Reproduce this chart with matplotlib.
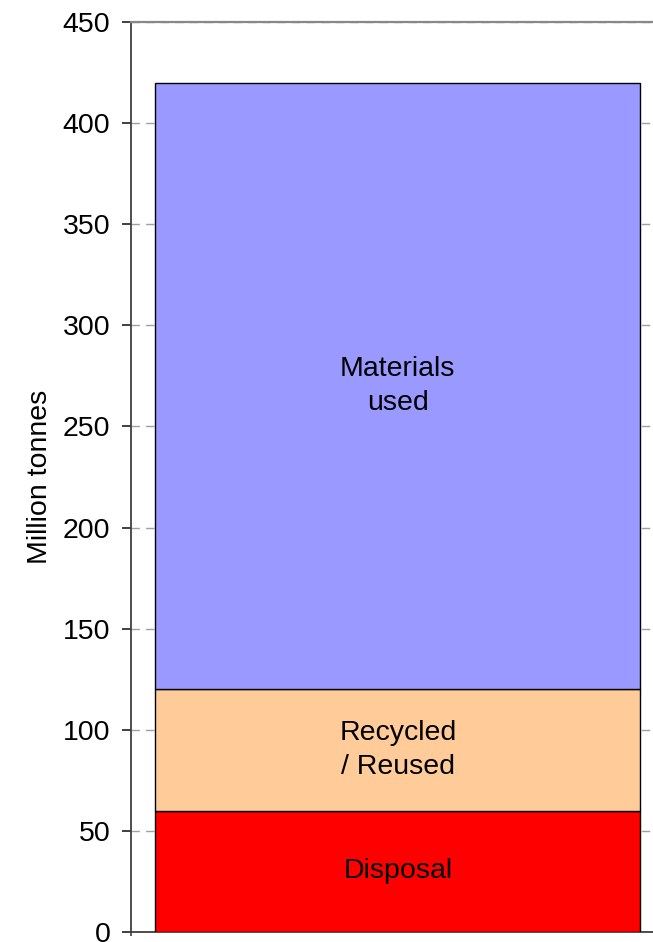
import matplotlib.pyplot as plt

# stacked components, million tonnes
segments = ["Disposal", "Recycled\n/ Reused", "Materials\nused"]
values = [60, 60, 300]
colors = ["#FF0000", "#FFCC99", "#9999FF"]

yticks = list(range(0, 451, 50))

plt.rcParams["font.family"] = ["Liberation Sans", "DejaVu Sans"]

fig = plt.figure(figsize=(6.53, 9.42), dpi=100)
# axes runs a little past the right edge of the figure
ax = fig.add_axes([130.5 / 653, 10 / 942, 534.5 / 653, 910 / 942])

bottom = 0
for name, val, col in zip(segments, values, colors):
    ax.bar(0.5, val, width=0.9074, bottom=bottom, color=col,
           edgecolor="black", linewidth=1.0, zorder=3)
    ax.text(0.5, bottom + val / 2, name, ha="center", va="center",
            fontsize=20.5, linespacing=1.45, zorder=4)
    bottom += val

ax.set_xlim(0, 1)
ax.set_ylim(0, 450)
ax.set_yticks(yticks)
ax.set_yticklabels([str(v) for v in yticks])
ax.set_xticks([0])
ax.set_xticklabels([""])

ax.yaxis.grid(True, color="#A0A0A0", linestyle=(0, (6, 4.5)), linewidth=1.0)
ax.set_axisbelow(True)

ax.tick_params(axis="y", direction="out", length=6.5, width=1.2,
               colors="#202020", labelsize=20.5, pad=8)
ax.tick_params(axis="y", labelcolor="black")
ax.tick_params(axis="x", direction="out", length=3, width=1.2, colors="#404040")

for side in ["left", "bottom"]:
    ax.spines[side].set_color("#404040")
    ax.spines[side].set_linewidth(1.3)
ax.spines["top"].set_color("#888888")
ax.spines["top"].set_linewidth(1.6)
ax.spines["right"].set_visible(False)

ax.set_ylabel("Million tonnes", fontsize=20.5, labelpad=7)

fig.savefig("out.png", dpi=100)
